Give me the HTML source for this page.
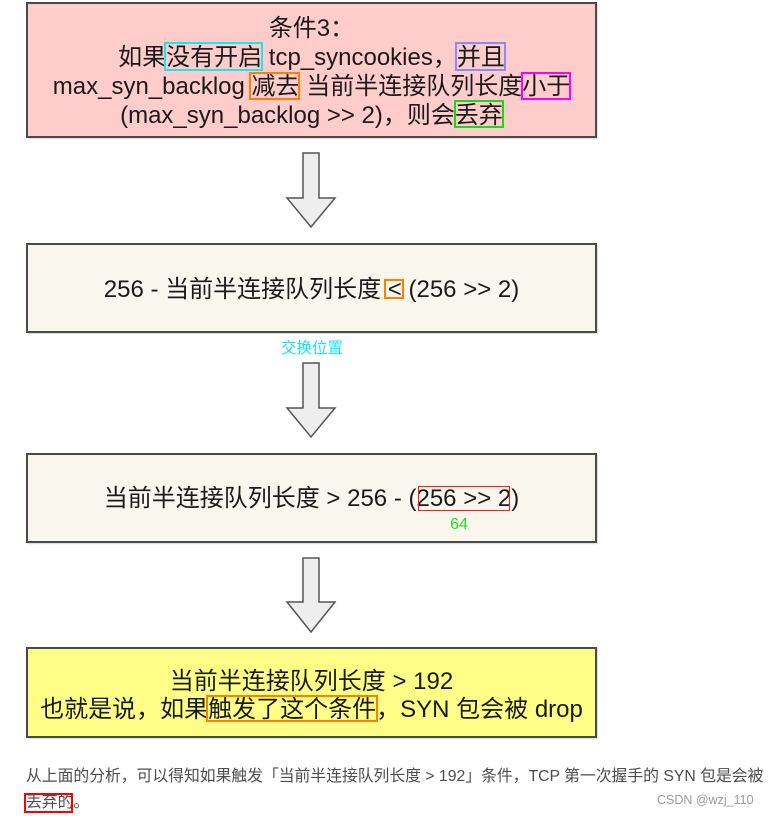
<!DOCTYPE html>
<html>
<head>
<meta charset="utf-8">
<style>
html,body{margin:0;padding:0;background:#fff;}
body{width:768px;height:816px;position:relative;overflow:hidden;font-family:"Liberation Sans","Noto Sans CJK SC",sans-serif;}
.box{position:absolute;left:26px;width:571px;box-sizing:border-box;border:2px solid #4a4a4a;box-shadow:1px 1px 1px rgba(0,0,0,0.15);}
.t{position:absolute;left:26px;width:571px;text-align:center;font-size:24px;color:#1a1a1a;white-space:nowrap;}
.hl{position:absolute;box-sizing:border-box;border:2px solid;}
svg{position:absolute;left:0;top:0;}
</style>
</head>
<body>
<div class="box" style="top:2px;height:136px;background:#ffcccc;"></div>
<div class="box" style="top:243px;height:90px;background:#f9f7ed;"></div>
<div class="box" style="top:453px;height:90px;background:#f9f7ed;"></div>
<div class="box" style="top:647px;height:91px;background:#ffff88;"></div>

<svg width="768" height="816">
  <polygon points="303,153 319,153 319,198 335,198 311,227 287,198 303,198" fill="#eeeeee" stroke="#555" stroke-width="1.5" stroke-linejoin="miter"/>
  <polygon points="303,363 319,363 319,408 335,408 311,437 287,408 303,408" fill="#eeeeee" stroke="#555" stroke-width="1.5"/>
  <polygon points="303,558 319,558 319,602 335,602 311,632 287,602 303,602" fill="#eeeeee" stroke="#555" stroke-width="1.5"/>
</svg>

<div class="t" style="top:14px;line-height:29px;">条件3：<br>如果没有开启 tcp_syncookies，并且<br>max_syn_backlog 减去 当前半连接队列长度小于<br>(max_syn_backlog &gt;&gt; 2)，则会丢弃</div>

<div class="hl" style="left:164px;top:42px;width:99px;height:29px;border-color:#19e6ef;"></div>
<div class="hl" style="left:455px;top:42px;width:51px;height:29px;border-color:#8a8aff;"></div>
<div class="hl" style="left:249px;top:72px;width:51px;height:28px;border-color:#ff8000;"></div>
<div class="hl" style="left:521px;top:72px;width:50px;height:28px;border-color:#ff00ff;"></div>
<div class="hl" style="left:454px;top:100px;width:50px;height:28px;border-color:#11dd11;"></div>

<div class="t" style="top:275px;line-height:29px;">256 - 当前半连接队列长度 &lt; (256 &gt;&gt; 2)</div>
<div class="hl" style="left:384px;top:279px;width:20px;height:20px;border-color:#ff8000;"></div>

<div style="position:absolute;left:270px;top:339px;width:84px;text-align:center;font-size:15.5px;line-height:20px;color:#17e6f0;white-space:nowrap;">交换位置</div>

<div class="t" style="top:484px;line-height:29px;">当前半连接队列长度 &gt; 256 - (256 &gt;&gt; 2)</div>
<div class="hl" style="left:418px;top:486px;width:92px;height:25px;border-width:1.5px;border-color:#ff1a1a;"></div>
<div style="position:absolute;left:440px;top:515px;width:38px;text-align:center;font-size:16px;line-height:20px;color:#1ee01e;">64</div>

<div class="t" style="top:668px;line-height:28px;">当前半连接队列长度 &gt; 192<br>也就是说，如果触发了这个条件，SYN 包会被 drop</div>
<div class="hl" style="left:206px;top:695px;width:172px;height:27px;border-color:#ff8000;"></div>

<div style="position:absolute;left:26px;top:765px;font-size:15.8px;line-height:24px;color:#4d4d4d;white-space:nowrap;">从上面的分析，可以得知如果触发「当前半连接队列长度 &gt; 192」条件，TCP 第一次握手的 SYN 包是会被</div>
<div style="position:absolute;left:26px;top:791px;font-size:15.8px;line-height:24px;color:#4d4d4d;white-space:nowrap;">丢弃的。</div>
<div class="hl" style="left:24px;top:793px;width:49px;height:20px;border-color:#ff0000;"></div>

<div style="position:absolute;left:657px;top:791px;font-size:12.5px;line-height:18px;color:#9a9a9a;white-space:nowrap;">CSDN @wzj_110</div>
</body>
</html>
